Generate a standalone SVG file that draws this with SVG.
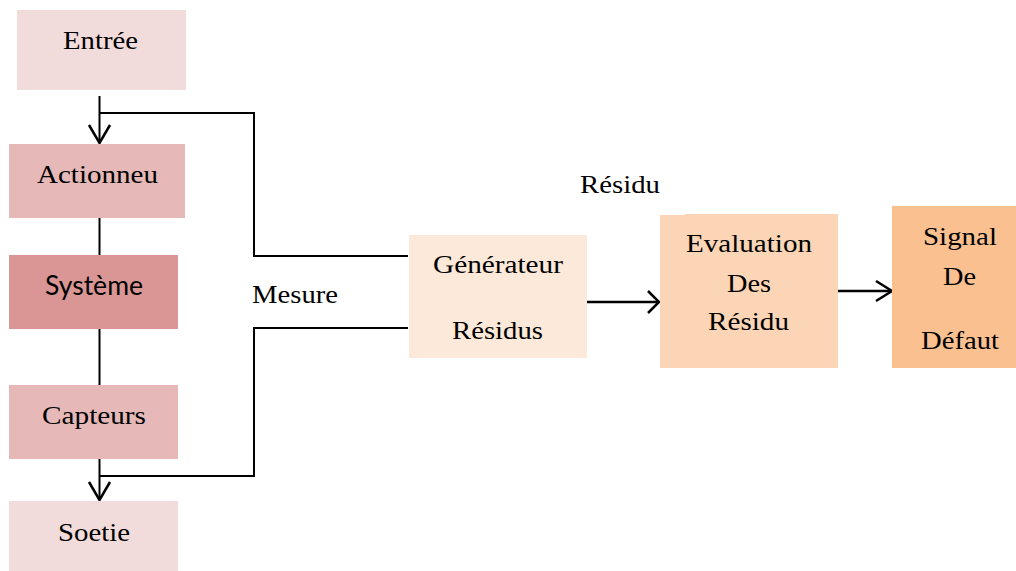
<svg xmlns="http://www.w3.org/2000/svg" width="1016" height="571" viewBox="0 0 1016 571">
<style>
.t{font-family:"Liberation Serif","Times New Roman",serif;font-size:26px;fill:#000}
.s{font-family:Lato,"Open Sans","Liberation Sans",sans-serif;font-size:26px;fill:#000}
.ln{fill:none;stroke:#000;stroke-width:2}
.ar{fill:none;stroke:#000;stroke-width:2.5}
</style>
<rect width="1016" height="571" fill="#fff"/>
<g id="connectors">
<path class="ln" d="M99.5,96 V142"/>
<path class="ar" d="M89,125 L99.5,143 L110,125"/>
<path class="ln" d="M99.5,113 H254 V256 H408"/>
<path class="ln" d="M99.5,218 V255"/>
<path class="ln" d="M99.5,329 V385"/>
<path class="ln" d="M99.5,459 V499"/>
<path class="ar" d="M89,482 L99.5,500 L110,482"/>
<path class="ln" d="M99.5,476 H254 V328 H408"/>
<path class="ar" d="M587,302 H657"/>
<path class="ar" d="M648,291 L659,302 L648,313"/>
<path class="ar" d="M838,291 H890"/>
<path class="ar" d="M876,281 L892,291 L876,301"/>
</g>
<g id="entree"><rect x="17" y="10" width="169" height="80" fill="#f2dcdb"/><text class="t" x="63" y="49" textLength="75" lengthAdjust="spacingAndGlyphs">Entrée</text></g>
<g id="actionneu"><rect x="9" y="144" width="176" height="74" fill="#e6b9b8"/><text class="t" x="37" y="183" textLength="121" lengthAdjust="spacingAndGlyphs">Actionneu</text></g>
<g id="systeme"><rect x="9" y="255" width="169" height="74" fill="#d99694"/><text class="s" x="45" y="295" textLength="98" lengthAdjust="spacingAndGlyphs">Système</text></g>
<g id="capteurs"><rect x="9" y="385" width="169" height="74" fill="#e6b9b8"/><text class="t" x="42" y="424" textLength="104" lengthAdjust="spacingAndGlyphs">Capteurs</text></g>
<g id="soetie"><rect x="9" y="501" width="169" height="70" fill="#f2dcdb"/><text class="t" x="58" y="541" textLength="72" lengthAdjust="spacingAndGlyphs">Soetie</text></g>
<g id="mesure"><text class="t" x="252" y="303" textLength="86" lengthAdjust="spacingAndGlyphs">Mesure</text></g>
<g id="residu-label"><text class="t" x="580" y="193" textLength="80" lengthAdjust="spacingAndGlyphs">Résidu</text></g>
<g id="generateur"><rect x="409" y="235" width="178" height="123" fill="#fde9d9"/><text class="t" x="433" y="273" textLength="130" lengthAdjust="spacingAndGlyphs">Générateur</text><text class="t" x="452" y="339" textLength="91" lengthAdjust="spacingAndGlyphs">Résidus</text></g>
<g id="evaluation"><rect x="660" y="215" width="178" height="153" fill="#fbd5b5"/><rect x="685" y="214" width="153" height="2" fill="#fbd5b5"/><text class="t" x="686" y="252" textLength="126" lengthAdjust="spacingAndGlyphs">Evaluation</text><text class="t" x="727" y="292" textLength="44" lengthAdjust="spacingAndGlyphs">Des</text><text class="t" x="708" y="330" textLength="81" lengthAdjust="spacingAndGlyphs">Résidu</text></g>
<g id="signal"><rect x="892" y="206" width="124" height="162" fill="#fac08f"/><text class="t" x="923" y="245" textLength="74" lengthAdjust="spacingAndGlyphs">Signal</text><text class="t" x="943" y="285" textLength="33" lengthAdjust="spacingAndGlyphs">De</text><text class="t" x="921" y="349" textLength="78" lengthAdjust="spacingAndGlyphs">Défaut</text></g>
</svg>
